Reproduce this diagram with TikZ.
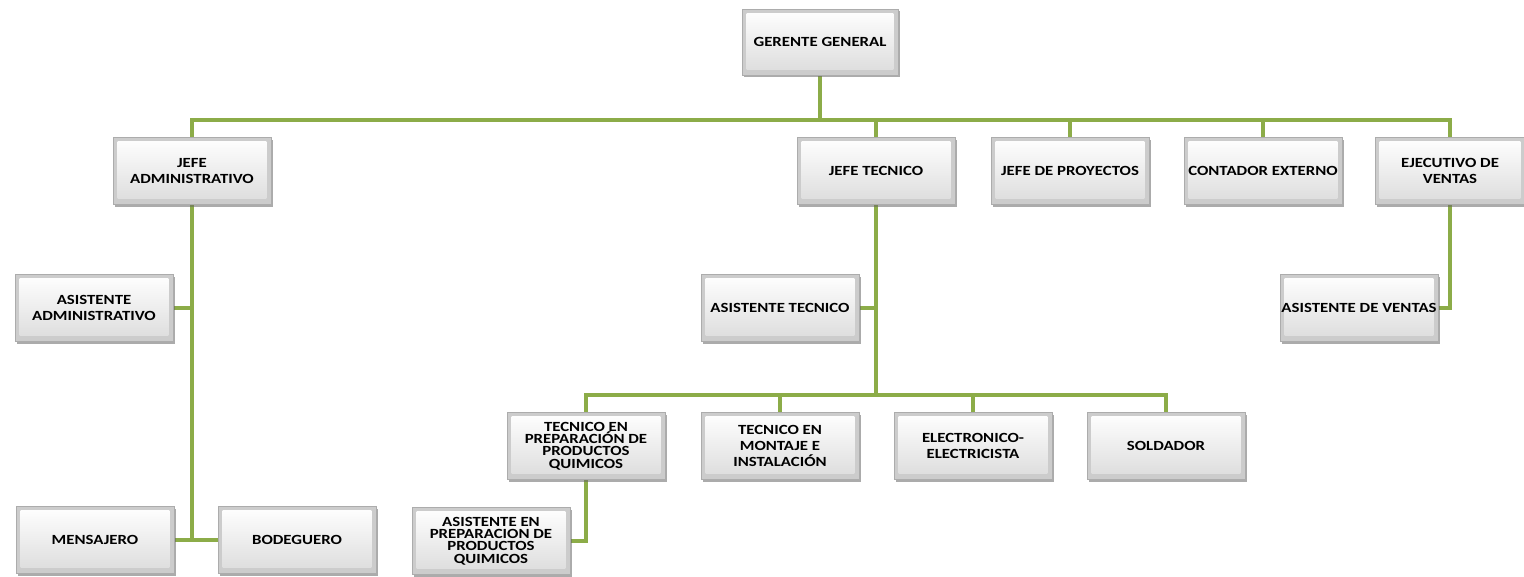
\documentclass[tikz,border=0pt]{standalone}
\usepackage{fontspec}
\setmainfont{Carlito}[FakeStretch=1.2]
\usetikzlibrary{shadows}
\pgfdeclarelayer{bgl}
\pgfdeclarelayer{connl}
\pgfsetlayers{bgl,connl,main}
\definecolor{lineg}{RGB}{140,172,72}
\tikzset{
  orgbox/.style={rectangle, draw=gray!65, line width=0.7pt, fill=gray!40,
    minimum width=118.5pt, minimum height=50pt, inner sep=1pt, align=center,
    font=\bfseries\fontsize{10.5}{12}\selectfont, text=black,
    drop shadow={shadow xshift=1.2pt, shadow yshift=-1.8pt, fill=black!60, opacity=.55},
    path picture={\shade[top color=white, bottom color=gray!28]
      ([shift={(3.5pt,-3pt)}]path picture bounding box.north west) rectangle
      ([shift={(-3.5pt,4.5pt)}]path picture bounding box.south east);}},
  tight/.style={font=\bfseries\fontsize{10.5}{9.2}\selectfont},
  conn/.style={draw=lineg, line width=3pt}
}
\begin{document}
\begin{tikzpicture}[x=0.75pt,y=-0.75pt]
\begin{pgfonlayer}{bgl}
\fill[white] (0,0) rectangle (1524,576);
\end{pgfonlayer}
\useasboundingbox (0,0) rectangle (1524,576);
% level 0
\node[orgbox, minimum width=117pt, minimum height=49.5pt] (gg) at (820,42) {GERENTE GENERAL};
% level 1
\node[orgbox] (ja) at (192,171) {JEFE\\ADMINISTRATIVO};
\node[orgbox] (jt) at (876,171) {JEFE TECNICO};
\node[orgbox] (jp) at (1070,171) {JEFE DE PROYECTOS};
\node[orgbox] (ce) at (1263,171) {CONTADOR EXTERNO};
\node[orgbox, minimum width=112.5pt] (ev) at (1450,171) {EJECUTIVO DE\\VENTAS};
% level 2
\node[orgbox] (aa) at (94,308) {ASISTENTE\\ADMINISTRATIVO};
\node[orgbox] (at) at (780,308) {ASISTENTE TECNICO};
\node[orgbox] (av) at (1359,308) {ASISTENTE DE VENTAS};
% technicians
\node[orgbox, tight] (tp) at (586,446) {TECNICO EN\\PREPARACIÓN DE\\PRODUCTOS\\QUIMICOS};
\node[orgbox] (tm) at (780,446) {TECNICO EN\\MONTAJE E\\INSTALACIÓN};
\node[orgbox] (el) at (973,446) {ELECTRONICO-\\ELECTRICISTA};
\node[orgbox] (so) at (1166,446) {SOLDADOR};
% bottom
\node[orgbox, tight] (ap) at (491,541) {ASISTENTE EN\\PREPARACION DE\\PRODUCTOS\\QUIMICOS};
\node[orgbox] (men) at (95,540) {MENSAJERO};
\node[orgbox] (bod) at (297,540) {BODEGUERO};
% connectors
\coordinate (b0) at (820,120);
\coordinate (tb) at (877,395);
\begin{pgfonlayer}{connl}
\draw[conn] (gg.south) -- (b0);
\draw[conn] (ja.north) |- (b0) -| (ev.north);
\draw[conn] (jt.north) -- (jt.north |- b0);
\draw[conn] (jp.north) -- (jp.north |- b0);
\draw[conn] (ce.north) -- (ce.north |- b0);
\draw[conn] (ja.south) -- (ja.south |- men.east);
\draw[conn] (aa.east) -- (aa.east -| ja.south);
\draw[conn] (men.east) -- (bod.west);
\draw[conn] (jt.south) -- (jt.south |- tb);
\draw[conn] (at.east) -- (at.east -| jt.south);
\draw[conn] (tp.north) |- (tb) -| (so.north);
\draw[conn] (tm.north) -- (tm.north |- tb);
\draw[conn] (el.north) -- (el.north |- tb);
\draw[conn] (tp.south) |- (ap.east);
\draw[conn] (ev.south) |- (av.east);
\end{pgfonlayer}
\end{tikzpicture}
\end{document}
